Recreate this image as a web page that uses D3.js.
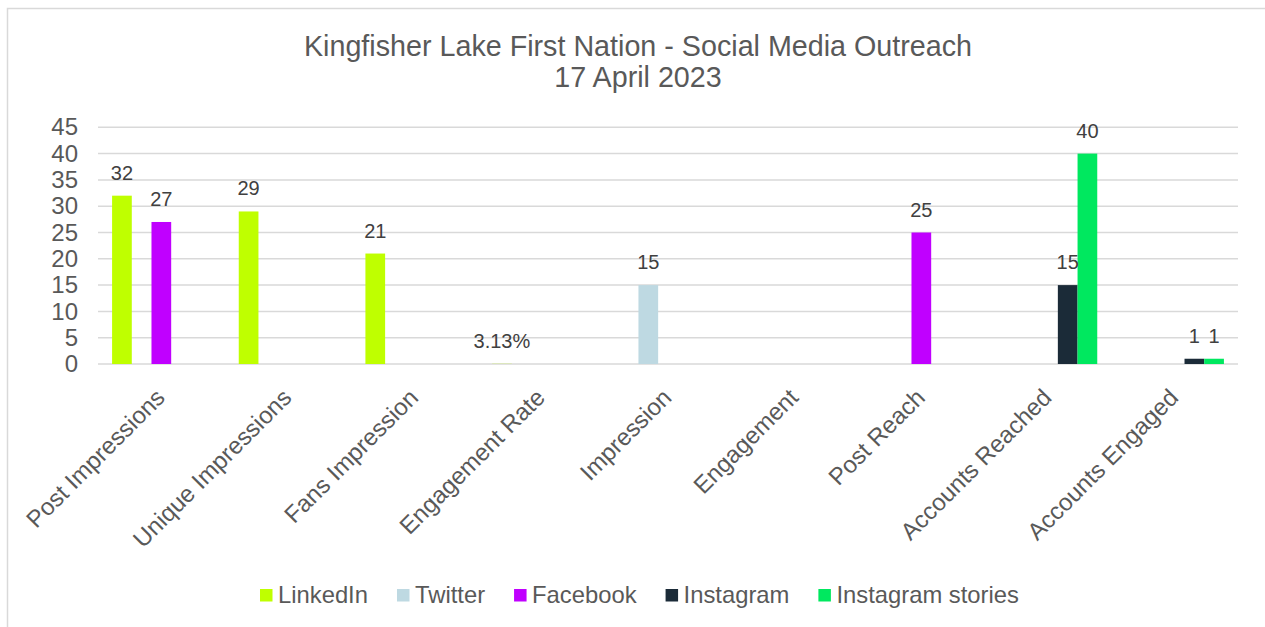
<!DOCTYPE html>
<html lang="en">
<head>
    <meta charset="UTF-8">
    <title>Kingfisher Lake First Nation - Social Media Outreach</title>
    <script src="https://d3js.org/d3.v7.min.js"></script>
    <style>
        body { margin: 0; background: #fff; }
        text { font-family: "Liberation Sans", Arial, sans-serif; fill: #595959; }
    </style>
</head>
<body>
    <div id="chart"></div>

    <script>
        // Data
        var categories = ["Post Impressions", "Unique Impressions", "Fans Impression", "Engagement Rate",
            "Impression", "Engagement", "Post Reach", "Accounts Reached", "Accounts Engaged"];
        var seriesNames = ["LinkedIn", "Twitter", "Facebook", "Instagram", "Instagram stories"];
        var linkedin = [32, 29, 21, 0.0313, null, null, null, null, null];
        var twitter = [null, null, null, null, 15, null, null, null, null];
        var facebook = [27, null, null, null, null, null, 25, null, null];
        var instagram = [null, null, null, null, null, null, null, 15, 1];
        var instagramStories = [null, null, null, null, null, null, null, 40, 1];
        var yTicks = [0, 5, 10, 15, 20, 25, 30, 35, 40, 45];

        var seriesValues = [linkedin, twitter, facebook, instagram, instagramStories];
        var colors = ["#bfff00", "#bed9e2", "#c000ff", "#1b2b38", "#00e85f"];

        var width = 1265;
        var height = 627;
        var plot = { left: 98, right: 1238, top: 127.3, bottom: 364 };

        var svg = d3.select("#chart")
            .append("svg")
            .attr("width", width)
            .attr("height", height);

        // Chart border (runs off the right and bottom edges)
        svg.append("rect")
            .attr("x", 7.5).attr("y", 8.5)
            .attr("width", 1400).attr("height", 800)
            .attr("fill", "none")
            .attr("stroke", "#d9d9d9")
            .attr("stroke-width", 1.5);

        // Title
        var title = svg.append("text")
            .attr("text-anchor", "middle")
            .style("font-size", "28.7px");
        title.append("tspan").attr("x", 638).attr("y", 55.5)
            .text("Kingfisher Lake First Nation - Social Media Outreach");
        title.append("tspan").attr("x", 638).attr("y", 87)
            .text("17 April 2023");

        // Scales
        var x = d3.scaleBand()
            .domain(categories)
            .range([plot.left, plot.right])
            .padding(0);

        var xInner = d3.scaleBand()
            .domain(seriesNames)
            .range([0, x.bandwidth()])
            .paddingInner(0)
            .paddingOuter(0.715);

        var y = d3.scaleLinear()
            .domain([0, 45])
            .range([plot.bottom, plot.top]);

        // Gridlines
        svg.append("g")
            .selectAll("line")
            .data(yTicks)
            .enter().append("line")
            .attr("x1", plot.left)
            .attr("x2", plot.right)
            .attr("y1", function(d) { return y(d); })
            .attr("y2", function(d) { return y(d); })
            .attr("stroke", "#d9d9d9")
            .attr("stroke-width", 1.5);

        // Y axis labels
        var yAxis = svg.append("g")
            .attr("transform", "translate(" + (plot.left - 20) + ",0)")
            .call(d3.axisLeft(y).tickValues(yTicks).tickSize(0).tickPadding(0));
        yAxis.select(".domain").remove();
        yAxis.selectAll("text")
            .style("font-size", "24px")
            .attr("fill", "#595959")
            .attr("font-family", "Liberation Sans, Arial, sans-serif");

        // Bars
        var bars = [];
        seriesValues.forEach(function(values, s) {
            values.forEach(function(v, c) {
                if (v !== null) bars.push({ series: seriesNames[s], color: colors[s], cat: categories[c], value: v });
            });
        });

        svg.append("g")
            .selectAll("rect")
            .data(bars)
            .enter().append("rect")
            .attr("x", function(d) { return x(d.cat) + xInner(d.series); })
            .attr("y", function(d) { return y(d.value); })
            .attr("width", xInner.bandwidth())
            .attr("height", function(d) { return y(0) - y(d.value); })
            .attr("fill", function(d) { return d.color; });

        // Data labels
        var pct = d3.format(".2%");
        svg.append("g")
            .selectAll("text")
            .data(bars)
            .enter().append("text")
            .attr("x", function(d) { return x(d.cat) + xInner(d.series) + xInner.bandwidth() / 2; })
            .attr("y", function(d) { return y(d.value) - 16; })
            .attr("text-anchor", "middle")
            .style("font-size", "20px")
            .style("fill", "#404040")
            .text(function(d) { return d.value < 1 ? pct(d.value) : d.value; });

        // Category labels, rotated
        svg.append("g")
            .selectAll("text")
            .data(categories)
            .enter().append("text")
            .attr("text-anchor", "end")
            .attr("transform", function(d) {
                return "translate(" + (x(d) + x.bandwidth() / 2 + 5) + ",399) rotate(-45)";
            })
            .style("font-size", "24px")
            .text(function(d) { return d; });

        // Legend
        var legend = svg.append("g").attr("transform", "translate(0,589)");
        var lx = 260;
        seriesNames.forEach(function(name, i) {
            legend.append("rect")
                .attr("x", lx).attr("y", 0)
                .attr("width", 12.5).attr("height", 12.5)
                .attr("fill", colors[i]);
            var t = legend.append("text")
                .attr("x", lx + 18).attr("y", 13.5)
                .style("font-size", "23.8px")
                .text(name);
            lx += 18 + t.node().getComputedTextLength() + 29;
        });
    </script>
</body>
</html>
